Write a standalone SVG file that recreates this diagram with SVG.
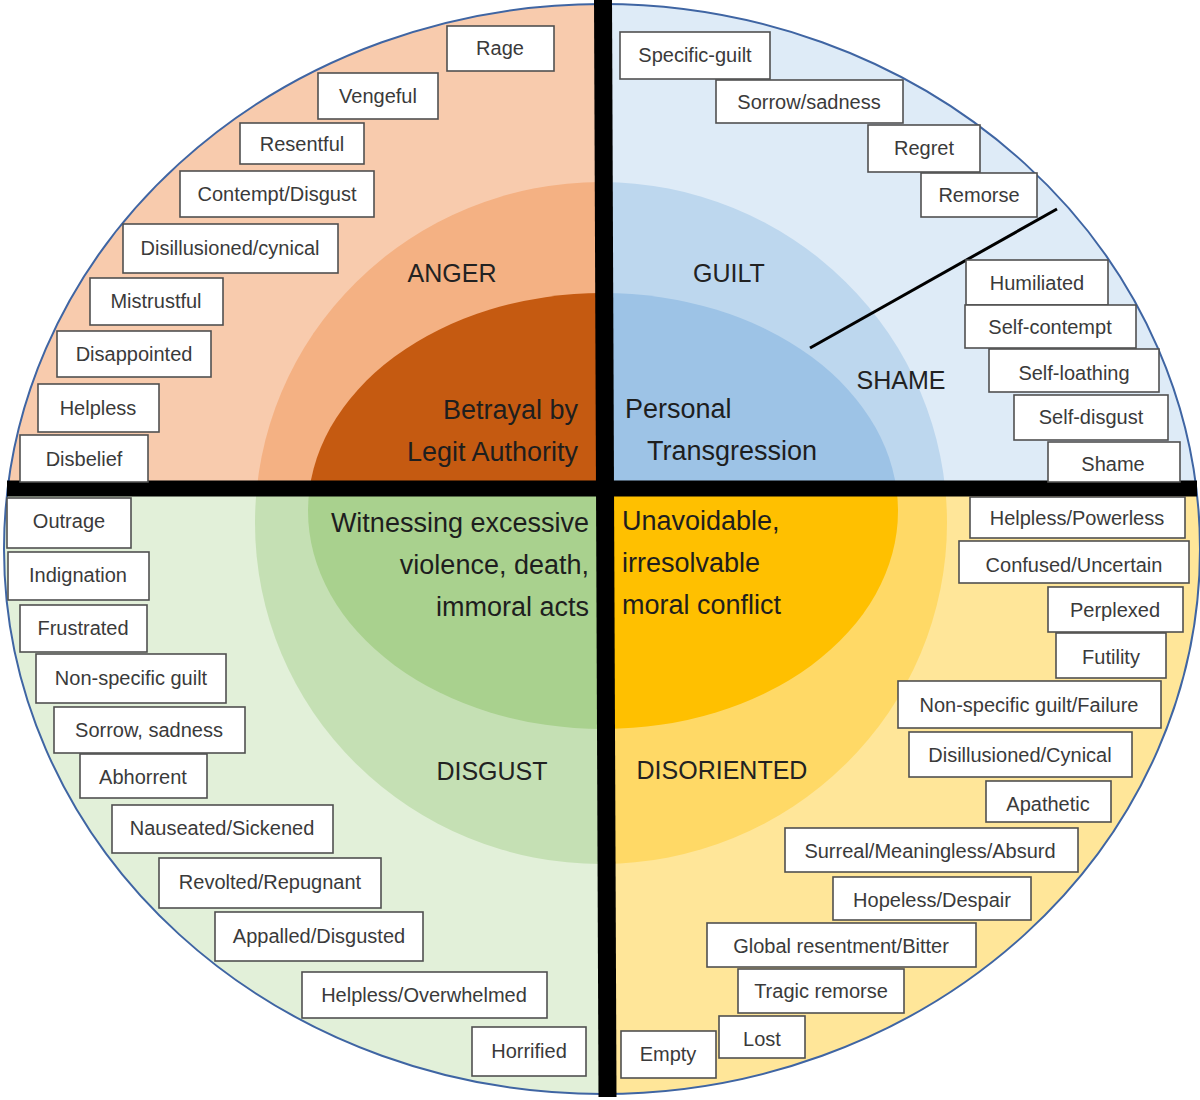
<svg xmlns="http://www.w3.org/2000/svg" width="1200" height="1100" viewBox="0 0 1200 1100">
<defs>
<style>
.box rect{fill:#fff;stroke:#505050;stroke-width:1.6}
.box text{font-family:"Liberation Sans",Arial,sans-serif;font-size:20px;fill:#3a3a3a;text-anchor:middle}
.big{font-family:"Liberation Sans",Arial,sans-serif;font-size:25px;fill:#222}
.core{font-family:"Liberation Sans",Arial,sans-serif;font-size:27px;fill:#1e1e1e}
</style>
<clipPath id="cTL"><rect x="0" y="0" width="603" height="489"/></clipPath>
<clipPath id="cTR"><rect x="603" y="0" width="597" height="489"/></clipPath>
<clipPath id="cBL"><rect x="0" y="489" width="605" height="611"/></clipPath>
<clipPath id="cBR"><rect x="605" y="489" width="595" height="611"/></clipPath>
</defs>
<rect width="1200" height="1100" fill="#fff"/>
<g id="quadrants">
<g clip-path="url(#cTL)">
<ellipse cx="602" cy="549" rx="598" ry="545" fill="#F8CBAD"/>
<ellipse cx="601" cy="523" rx="346" ry="341" fill="#F4B183"/>
<ellipse cx="603" cy="511" rx="295" ry="218" fill="#C55A11"/>
</g>
<g clip-path="url(#cTR)">
<ellipse cx="602" cy="549" rx="598" ry="545" fill="#DEEBF7"/>
<ellipse cx="601" cy="523" rx="346" ry="341" fill="#BDD7EE"/>
<ellipse cx="603" cy="511" rx="295" ry="218" fill="#9DC3E6"/>
</g>
<g clip-path="url(#cBL)">
<ellipse cx="602" cy="549" rx="598" ry="545" fill="#E2F0D9"/>
<ellipse cx="601" cy="523" rx="346" ry="341" fill="#C5E0B4"/>
<ellipse cx="603" cy="511" rx="295" ry="218" fill="#A9D18E"/>
</g>
<g clip-path="url(#cBR)">
<ellipse cx="602" cy="549" rx="598" ry="545" fill="#FFE699"/>
<ellipse cx="601" cy="523" rx="346" ry="341" fill="#FFD966"/>
<ellipse cx="603" cy="511" rx="295" ry="218" fill="#FFC000"/>
</g>
<ellipse cx="602" cy="549" rx="598" ry="545" fill="none" stroke="#3F65A3" stroke-width="2"/>
</g>
<g id="connectors">
<line x1="7" y1="488.5" x2="1197" y2="488.5" stroke="#000" stroke-width="16"/>
<line x1="603" y1="0" x2="607.5" y2="1097" stroke="#000" stroke-width="18"/>
<line x1="810" y1="348" x2="1057" y2="209" stroke="#000" stroke-width="3"/>
</g>
<g id="labels">
<text class="big" x="452" y="282" text-anchor="middle">ANGER</text>
<text class="big" x="729" y="282" text-anchor="middle">GUILT</text>
<text class="big" x="901" y="389" text-anchor="middle">SHAME</text>
<text class="big" x="492" y="780" text-anchor="middle">DISGUST</text>
<text class="big" x="722" y="779" text-anchor="middle">DISORIENTED</text>
<text class="core" x="578" y="419" text-anchor="end">Betrayal by</text>
<text class="core" x="578" y="461" text-anchor="end">Legit Authority</text>
<text class="core" x="625" y="418">Personal</text>
<text class="core" x="647" y="460">Transgression</text>
<text class="core" x="589" y="532" text-anchor="end">Witnessing excessive</text>
<text class="core" x="589" y="574" text-anchor="end">violence, death,</text>
<text class="core" x="589" y="616" text-anchor="end">immoral acts</text>
<text class="core" x="622" y="530">Unavoidable,</text>
<text class="core" x="622" y="572">irresolvable</text>
<text class="core" x="622" y="614">moral conflict</text>
</g>
<g id="anger-nodes">
<g id="n-rage" class="box"><rect x="447" y="26" width="107" height="45"/><text x="500" y="55">Rage</text></g>
<g id="n-vengeful" class="box"><rect x="318" y="73" width="120" height="46"/><text x="378" y="103">Vengeful</text></g>
<g id="n-resentful" class="box"><rect x="240" y="123" width="124" height="41"/><text x="302" y="151">Resentful</text></g>
<g id="n-contempt" class="box"><rect x="180" y="171" width="194" height="46"/><text x="277" y="201">Contempt/Disgust</text></g>
<g id="n-disillusioned" class="box"><rect x="123" y="224" width="215" height="49"/><text x="230" y="255">Disillusioned/cynical</text></g>
<g id="n-mistrustful" class="box"><rect x="90" y="278" width="133" height="47"/><text x="156" y="308">Mistrustful</text></g>
<g id="n-disappointed" class="box"><rect x="57" y="331" width="154" height="46"/><text x="134" y="361">Disappointed</text></g>
<g id="n-helpless" class="box"><rect x="38" y="384" width="121" height="48"/><text x="98" y="415">Helpless</text></g>
<g id="n-disbelief" class="box"><rect x="20" y="435" width="128" height="47"/><text x="84" y="466">Disbelief</text></g>
</g>
<g id="guilt-nodes">
<g id="n-specific-guilt" class="box"><rect x="620" y="32" width="150" height="47"/><text x="695" y="62">Specific-guilt</text></g>
<g id="n-sorrow-sadness" class="box"><rect x="716" y="80" width="187" height="43"/><text x="809" y="109">Sorrow/sadness</text></g>
<g id="n-regret" class="box"><rect x="868" y="125" width="112" height="47"/><text x="924" y="155">Regret</text></g>
<g id="n-remorse" class="box"><rect x="921" y="173" width="116" height="44"/><text x="979" y="202">Remorse</text></g>
<g id="n-humiliated" class="box"><rect x="966" y="260" width="142" height="45"/><text x="1037" y="290">Humiliated</text></g>
<g id="n-self-contempt" class="box"><rect x="965" y="305" width="171" height="43"/><text x="1050" y="334">Self-contempt</text></g>
<g id="n-self-loathing" class="box"><rect x="989" y="349" width="170" height="43"/><text x="1074" y="380">Self-loathing</text></g>
<g id="n-self-disgust" class="box"><rect x="1014" y="395" width="154" height="45"/><text x="1091" y="424">Self-disgust</text></g>
<g id="n-shame" class="box"><rect x="1048" y="442" width="132" height="40"/><text x="1113" y="471">Shame</text></g>
</g>
<g id="disgust-nodes">
<g id="n-outrage" class="box"><rect x="7" y="498" width="124" height="50"/><text x="69" y="528">Outrage</text></g>
<g id="n-indignation" class="box"><rect x="8" y="552" width="141" height="48"/><text x="78" y="582">Indignation</text></g>
<g id="n-frustrated" class="box"><rect x="20" y="605" width="127" height="47"/><text x="83" y="635">Frustrated</text></g>
<g id="n-nonspecific-guilt" class="box"><rect x="36" y="654" width="190" height="49"/><text x="131" y="685">Non-specific guilt</text></g>
<g id="n-sorrow-sadness-2" class="box"><rect x="54" y="707" width="191" height="46"/><text x="149" y="737">Sorrow, sadness</text></g>
<g id="n-abhorrent" class="box"><rect x="80" y="754" width="127" height="44"/><text x="143" y="784">Abhorrent</text></g>
<g id="n-nauseated" class="box"><rect x="112" y="805" width="221" height="48"/><text x="222" y="835">Nauseated/Sickened</text></g>
<g id="n-revolted" class="box"><rect x="159" y="858" width="222" height="50"/><text x="270" y="889">Revolted/Repugnant</text></g>
<g id="n-appalled" class="box"><rect x="215" y="912" width="208" height="49"/><text x="319" y="943">Appalled/Disgusted</text></g>
<g id="n-helpless-overwhelmed" class="box"><rect x="302" y="972" width="245" height="46"/><text x="424" y="1002">Helpless/Overwhelmed</text></g>
<g id="n-horrified" class="box"><rect x="472" y="1027" width="114" height="49"/><text x="529" y="1058">Horrified</text></g>
</g>
<g id="disoriented-nodes">
<g id="n-helpless-powerless" class="box"><rect x="970" y="497" width="215" height="41"/><text x="1077" y="525">Helpless/Powerless</text></g>
<g id="n-confused" class="box"><rect x="959" y="541" width="230" height="42"/><text x="1074" y="572">Confused/Uncertain</text></g>
<g id="n-perplexed" class="box"><rect x="1048" y="587" width="135" height="45"/><text x="1115" y="617">Perplexed</text></g>
<g id="n-futility" class="box"><rect x="1056" y="633" width="110" height="45"/><text x="1111" y="664">Futility</text></g>
<g id="n-nonspecific-failure" class="box"><rect x="898" y="681" width="263" height="47"/><text x="1029" y="712">Non-specific guilt/Failure</text></g>
<g id="n-disillusioned-cynical" class="box"><rect x="909" y="732" width="223" height="45"/><text x="1020" y="762">Disillusioned/Cynical</text></g>
<g id="n-apathetic" class="box"><rect x="986" y="781" width="125" height="41"/><text x="1048" y="811">Apathetic</text></g>
<g id="n-surreal" class="box"><rect x="785" y="828" width="293" height="44"/><text x="930" y="858">Surreal/Meaningless/Absurd</text></g>
<g id="n-hopeless" class="box"><rect x="833" y="877" width="198" height="43"/><text x="932" y="907">Hopeless/Despair</text></g>
<g id="n-global-resentment" class="box"><rect x="707" y="923" width="269" height="44"/><text x="841" y="953">Global resentment/Bitter</text></g>
<g id="n-tragic-remorse" class="box"><rect x="738" y="969" width="166" height="44"/><text x="821" y="998">Tragic remorse</text></g>
<g id="n-lost" class="box"><rect x="719" y="1016" width="86" height="42"/><text x="762" y="1046">Lost</text></g>
<g id="n-empty" class="box"><rect x="621" y="1031" width="95" height="47"/><text x="668" y="1061">Empty</text></g>
</g>
</svg>
